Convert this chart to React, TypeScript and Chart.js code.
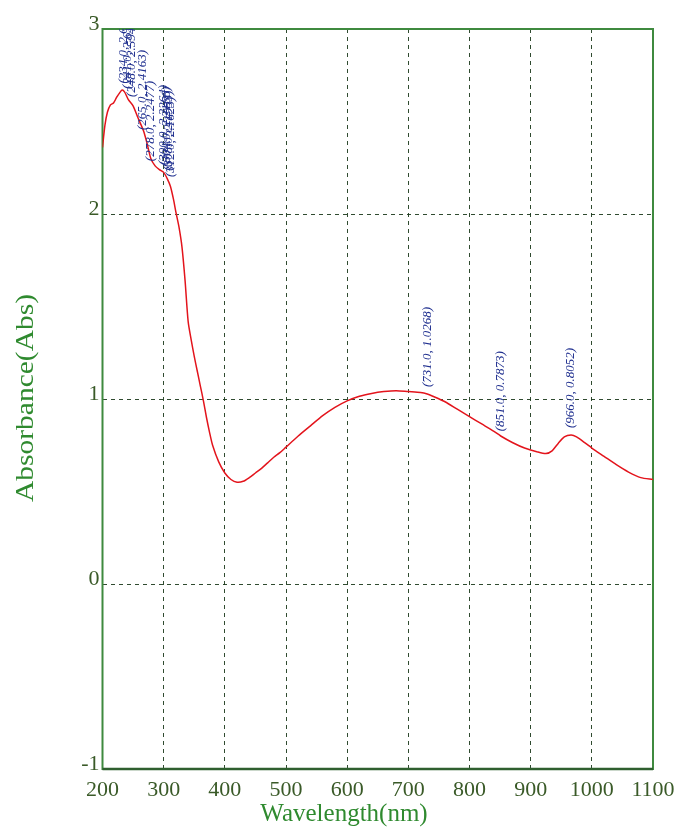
import React, { useEffect, useRef } from 'react';
import { Chart, registerables } from 'chart.js';

Chart.register(...registerables);

const wavelengths = [
  200, 204, 208, 213, 218, 223, 228, 232, 236, 242, 250, 258, 267, 273, 279, 286, 293, 300, 306, 311,
  316, 320, 325, 330, 335, 340, 345, 350, 355, 360, 365, 370, 375, 380, 390, 400, 410, 420, 430, 440,
  450, 460, 470, 480, 490, 500, 520, 540, 560, 580, 600, 620, 640, 660, 680, 700, 720, 731, 740, 760,
  780, 800, 820, 840, 851, 870, 890, 910, 925, 935, 945, 955, 966, 975, 990, 1000, 1020, 1040, 1060, 1080, 1100,
];
const absorbance = [
  2.36, 2.48, 2.55, 2.59, 2.6, 2.63, 2.655, 2.67, 2.66, 2.62, 2.585, 2.52, 2.45, 2.38, 2.3, 2.26, 2.24, 2.225, 2.19, 2.15,
  2.08, 2.01, 1.93, 1.82, 1.64, 1.42, 1.32, 1.23, 1.15, 1.07, 0.99, 0.9, 0.82, 0.75, 0.66, 0.6, 0.565, 0.55, 0.555, 0.575,
  0.6, 0.625, 0.655, 0.685, 0.71, 0.74, 0.8, 0.855, 0.91, 0.955, 0.99, 1.015, 1.03, 1.04, 1.045, 1.04, 1.035, 1.027, 1.015, 0.985,
  0.945, 0.905, 0.865, 0.825, 0.8, 0.765, 0.735, 0.715, 0.705, 0.72, 0.76, 0.795, 0.805, 0.795, 0.76, 0.735, 0.69, 0.645, 0.605, 0.575, 0.565,
];

const peakWavelengths = [234.0, 241.0, 248.0, 265.0, 278.0, 300.0, 304.0, 308.0, 312.0, 731.0, 851.0, 966.0];
const peakValues = [2.6673, 2.6382, 2.5946, 2.4163, 2.2477, 2.2264, 2.2166, 2.1953, 2.1623, 1.0268, 0.7873, 0.8052];

const xMin = 200;
const xMax = 1100;
const xStep = 100;
const yMin = -1;
const yMax = 3;
const yStep = 1;

const xTitle = 'Wavelength(nm)';
const yTitle = 'Absorbance(Abs)';

const GREEN_AXIS = '#3f8a3f';
const GRID = 'rgba(25,55,25,0.9)';
const TICK_COLOR = '#3a5a28';
const TITLE_COLOR = '#2f8a2f';
const LABEL_COLOR = '#1f2f8f';

const overlay = {
  id: 'overlay',
  beforeDatasetsDraw(chart: any) {
    const { ctx, chartArea } = chart;
    ctx.save();
    ctx.strokeStyle = GREEN_AXIS;
    ctx.lineWidth = 2;
    ctx.strokeRect(chartArea.left, chartArea.top, chartArea.right - chartArea.left, chartArea.bottom - chartArea.top);
    ctx.strokeStyle = '#2f5f2f';
    ctx.lineWidth = 2.5;
    ctx.beginPath();
    ctx.moveTo(chartArea.left, chartArea.bottom);
    ctx.lineTo(chartArea.right, chartArea.bottom);
    ctx.stroke();
    ctx.restore();
  },
  afterDatasetsDraw(chart: any) {
    const { ctx, chartArea, scales } = chart;
    ctx.save();
    ctx.beginPath();
    ctx.rect(chartArea.left, chartArea.top, chartArea.right - chartArea.left, chartArea.bottom - chartArea.top);
    ctx.clip();
    ctx.font = 'italic 13px "Liberation Serif"';
    ctx.fillStyle = LABEL_COLOR;
    ctx.textAlign = 'left';
    ctx.textBaseline = 'middle';
    peakWavelengths.forEach((w, i) => {
      const px = scales.x.getPixelForValue(w);
      const py = scales.y.getPixelForValue(peakValues[i]);
      const text = '(' + w.toFixed(1) + ', ' + peakValues[i].toFixed(4) + ')';
      ctx.save();
      ctx.translate(px, py - 7);
      ctx.rotate(-Math.PI / 2);
      ctx.fillText(text, 0, 0);
      ctx.restore();
    });
    ctx.restore();

    ctx.save();
    ctx.font = '25px "Liberation Serif"';
    ctx.fillStyle = TITLE_COLOR;
    ctx.textAlign = 'center';
    ctx.textBaseline = 'middle';
    ctx.fillText(xTitle, 344, 814);
    ctx.translate(26, 398);
    ctx.rotate(-Math.PI / 2);
    ctx.scale(1.18, 1);
    ctx.fillText(yTitle, 0, 0);
    ctx.restore();
  },
};

export default function App() {
  const ref = useRef<HTMLCanvasElement | null>(null);
  useEffect(() => {
    if (!ref.current) return;
    const points = wavelengths.map((w, i) => ({ x: w, y: absorbance[i] }));
    const chart = new Chart(ref.current, {
      type: 'scatter',
      data: {
        datasets: [
          {
            data: points,
            showLine: true,
            borderColor: '#e3141c',
            borderWidth: 1.5,
            pointRadius: 0,
            tension: 0.25,
          },
        ],
      },
      options: {
        animation: false,
        responsive: false,
        devicePixelRatio: 1,
        layout: { padding: { left: 0, top: 29, right: 24, bottom: 0 } },
        plugins: { legend: { display: false }, tooltip: { enabled: false } },
        scales: {
          x: {
            type: 'linear',
            min: xMin,
            max: xMax,
            afterFit: (s: any) => {
              s.height = 60;
              s.paddingLeft = 0;
              s.paddingRight = 0;
            },
            ticks: {
              stepSize: xStep,
              color: TICK_COLOR,
              font: { family: 'Liberation Serif', size: 22 },
              padding: 8,
              maxRotation: 0,
              callback: (v: any) => String(v),
            },
            grid: {
              drawTicks: false,
              color: (c: any) => (c.tick && (c.tick.value === xMin || c.tick.value === xMax) ? 'rgba(0,0,0,0)' : GRID),
            },
            border: { display: false, dash: [4, 4] },
            title: { display: false },
          },
          y: {
            type: 'linear',
            min: yMin,
            max: yMax,
            afterFit: (s: any) => {
              s.width = 102.5;
              s.paddingTop = 0;
              s.paddingBottom = 0;
            },
            ticks: {
              stepSize: yStep,
              color: TICK_COLOR,
              font: { family: 'Liberation Serif', size: 22 },
              padding: 3,
              labelOffset: -5,
              callback: (v: any) => String(v),
            },
            grid: {
              drawTicks: false,
              color: (c: any) => (c.tick && (c.tick.value === yMin || c.tick.value === yMax) ? 'rgba(0,0,0,0)' : GRID),
            },
            border: { display: false, dash: [4, 4] },
            title: { display: false },
          },
        },
      },
      plugins: [overlay],
    });
    return () => chart.destroy();
  }, []);
  return (
    <div style={{ position: 'absolute', left: 0, top: 0, width: 677, height: 829, background: '#fff' }}>
      <canvas ref={ref} width={677} height={829} />
    </div>
  );
}
